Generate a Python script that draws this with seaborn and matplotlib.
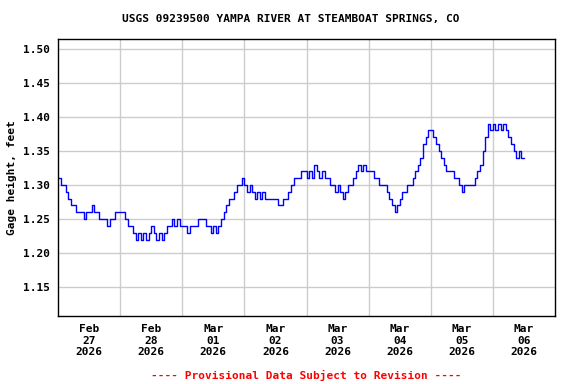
import numpy as np
import pandas as pd
import seaborn as sns
import matplotlib.pyplot as plt

# hourly gage height readings (feet)
feb27 = [1.31, 1.30, 1.30, 1.29, 1.28, 1.27, 1.27, 1.26, 1.26, 1.26, 1.25, 1.26,
         1.26, 1.27, 1.26, 1.26, 1.25, 1.25, 1.25, 1.24, 1.25, 1.25, 1.26, 1.26]
feb28 = [1.26, 1.26, 1.25, 1.24, 1.24, 1.23, 1.22, 1.23, 1.22, 1.23, 1.22, 1.23,
         1.24, 1.23, 1.22, 1.23, 1.22, 1.23, 1.24, 1.24, 1.25, 1.24, 1.25, 1.24]
mar01 = [1.24, 1.24, 1.23, 1.24, 1.24, 1.24, 1.25, 1.25, 1.25, 1.24, 1.24, 1.23,
         1.24, 1.23, 1.24, 1.25, 1.26, 1.27, 1.28, 1.28, 1.29, 1.30, 1.30, 1.31]
mar02 = [1.30, 1.29, 1.30, 1.29, 1.28, 1.29, 1.28, 1.29, 1.28, 1.28, 1.28, 1.28,
         1.28, 1.27, 1.27, 1.28, 1.28, 1.29, 1.30, 1.31, 1.31, 1.31, 1.32, 1.32]
mar03 = [1.31, 1.32, 1.31, 1.33, 1.32, 1.31, 1.32, 1.31, 1.31, 1.30, 1.30, 1.29,
         1.30, 1.29, 1.28, 1.29, 1.30, 1.30, 1.31, 1.32, 1.33, 1.32, 1.33, 1.32]
mar04 = [1.32, 1.32, 1.31, 1.31, 1.30, 1.30, 1.30, 1.29, 1.28, 1.27, 1.26, 1.27,
         1.28, 1.29, 1.29, 1.30, 1.30, 1.31, 1.32, 1.33, 1.34, 1.36, 1.37, 1.38]
mar05 = [1.38, 1.37, 1.36, 1.35, 1.34, 1.33, 1.32, 1.32, 1.32, 1.31, 1.31, 1.30,
         1.29, 1.30, 1.30, 1.30, 1.30, 1.31, 1.32, 1.33, 1.35, 1.37, 1.39, 1.38]
mar06 = [1.39, 1.38, 1.39, 1.38, 1.39, 1.38, 1.37, 1.36, 1.35, 1.34, 1.35, 1.34, 1.34]

heights = feb27 + feb28 + mar01 + mar02 + mar03 + mar04 + mar05 + mar06
times = pd.date_range("2026-02-27 00:00", periods=len(heights), freq="h")
df = pd.DataFrame({"time": times, "height": heights})

day_labels = ["Feb\n27\n2026", "Feb\n28\n2026", "Mar\n01\n2026", "Mar\n02\n2026",
              "Mar\n03\n2026", "Mar\n04\n2026", "Mar\n05\n2026", "Mar\n06\n2026"]

sns.set_theme(style="white")
plt.rcParams['font.family'] = ['DejaVu Sans Mono']
plt.rcParams['font.weight'] = 'bold'
plt.rcParams['text.color'] = 'black'
plt.rcParams['axes.labelcolor'] = 'black'
plt.rcParams['xtick.color'] = 'black'
plt.rcParams['ytick.color'] = 'black'

fig = plt.figure(figsize=(5.76, 3.84), dpi=100)
ax = fig.add_axes([58 / 576, 1 - 316 / 384, 497 / 576, 277 / 384])

sns.lineplot(data=df, x="time", y="height", ax=ax, color="#0000ff",
             linewidth=1, drawstyle="steps-post", estimator=None)

start = pd.Timestamp("2026-02-27")
ax.set_xlim(start, start + pd.Timedelta(days=8))
ax.set_ylim(1.108, 1.514)

# gridlines at midnight, date labels at noon
midnights = pd.date_range(start + pd.Timedelta(days=1), periods=7, freq="D")
noons = pd.date_range(start + pd.Timedelta(hours=12), periods=8, freq="D")
ax.set_xticks(midnights)
ax.set_xticklabels([])
ax.set_xticks(noons, minor=True)
ax.set_xticklabels(day_labels, minor=True, fontsize=8, fontweight='bold',
                   linespacing=1.15, color='black')
ax.tick_params(axis='x', which='both', length=0, pad=6)

yt = np.arange(1.15, 1.501, 0.05)
ax.set_yticks(yt)
ax.set_yticklabels([f"{v:.2f}" for v in yt], fontsize=8, fontweight='bold', color='black')
ax.tick_params(axis='y', length=0, pad=6)

ax.grid(True, which='major', color='#cccccc', linewidth=1)
ax.set_axisbelow(True)
for s in ax.spines.values():
    s.set_color('black')
    s.set_linewidth(1)

ax.set_xlabel("")
ax.set_ylabel("Gage height, feet", fontsize=8, fontweight='bold', labelpad=4, color='black')

fig.text(0.505, 1 - 19 / 384, "USGS 09239500 YAMPA RIVER AT STEAMBOAT SPRINGS, CO",
         ha='center', va='center', fontsize=8, fontweight='bold', color='black')
fig.text(306 / 576, 1 - 375 / 384, "---- Provisional Data Subject to Revision ----",
         ha='center', va='center', fontsize=8, fontweight='bold', color='red')

fig.savefig("out.png", dpi=100)
